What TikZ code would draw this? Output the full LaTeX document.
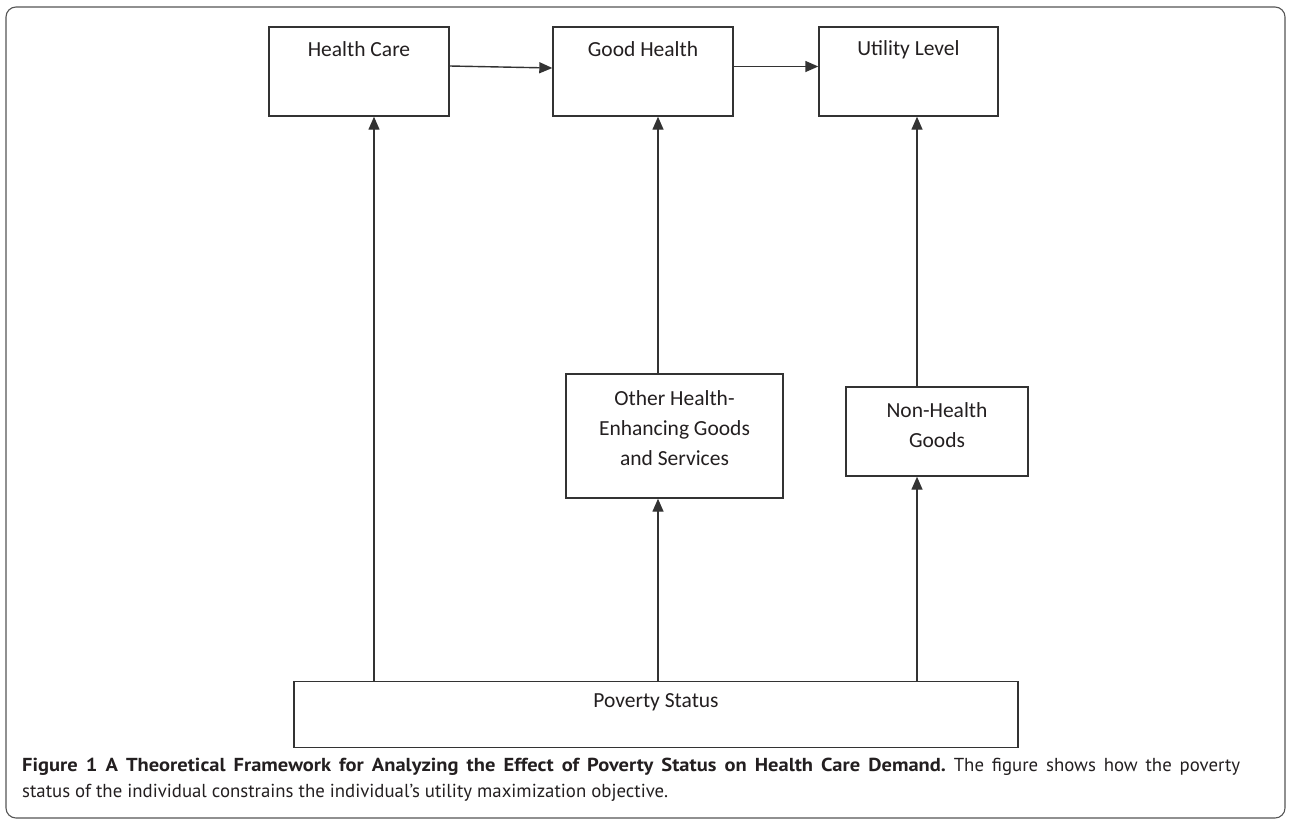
\documentclass[tikz,border=0pt]{standalone}
\usepackage{fontspec}
\setmainfont{Carlito}
\newfontfamily\capfont{PT Sans}[BoldFeatures={FakeStretch=1.09}]
\usetikzlibrary{arrows.meta}
\definecolor{ln}{HTML}{333333}
\definecolor{tx}{HTML}{231F20}
\definecolor{fr}{HTML}{555555}
\tikzset{
  box/.style={draw=ln, line width=1.4pt, fill=white, inner sep=0pt},
  txt/.style={text=tx, font=\fontsize{21.5}{30}\selectfont, align=center, inner sep=0pt},
  arr/.style={draw=ln, line width=1.4pt, -{Triangle[length=13pt,width=11pt]}},
}
\begin{document}
\begin{tikzpicture}[x=1pt,y=-1pt]
\useasboundingbox (0,0) rectangle (1292,825);
\draw[fr, line width=1.1pt, rounded corners=10pt] (6,7) rectangle (1285,818);

\node[box, minimum width=180pt, minimum height=89pt,
  label={[txt,anchor=center,yshift=-23pt]north:Health Care}] (hc) at (359,71.5) {};
\node[box, minimum width=180pt, minimum height=89pt,
  label={[txt,anchor=center,yshift=-23pt]north:Good Health}] (gh) at (643,71.5) {};
\node[box, minimum width=179pt, minimum height=89pt,
  label={[txt,anchor=center,yshift=-23pt]north:Utility Level}] (ul) at (908.5,71.5) {};
\node[box, minimum width=217pt, minimum height=124pt,
  label={[txt,anchor=center,yshift=-55pt]north:Other Health-\\Enhancing Goods\\and Services}] (oh) at (674.5,436) {};
\node[box, minimum width=182pt, minimum height=89pt,
  label={[txt,anchor=center,yshift=-39pt]north:Non-Health\\Goods}] (nh) at (937,431.5) {};
\node[box, minimum width=724pt, minimum height=66pt,
  label={[txt,anchor=center,yshift=-21pt]north:Poverty Status}] (ps) at (656,714.5) {};

\coordinate (a1) at ([xshift=15pt]hc.south);
\coordinate (a2) at ([xshift=-16.5pt]oh.south);
\coordinate (a3) at ([xshift=-20pt]nh.south);

\draw[arr] ([yshift=5.5pt]hc.east) -- ([yshift=3.5pt]gh.west);
\draw[arr] ([yshift=5pt]gh.east) -- ([yshift=5pt]ul.west);
\draw[arr] (ps.north -| a1) -- (a1);
\draw[arr] (ps.north -| a2) -- (a2);
\draw[arr] (oh.north -| a2) -- (gh.south -| a2);
\draw[arr] (ps.north -| a3) -- (a3);
\draw[arr] (nh.north -| a3) -- (ul.south -| a3);

\node[anchor=north west, inner sep=0pt, text width=1218pt, align=justify, text=tx,
  font=\capfont\fontsize{18.8}{26}\selectfont\frenchspacing] (cap) at (22,758)
  {\textbf{Figure 1 A Theoretical Framework for Analyzing the Effect of Poverty Status on Health Care Demand.} The figure shows how the poverty\linebreak
   status of the individual constrains the individual’s utility maximization objective.};
\end{tikzpicture}
\end{document}
